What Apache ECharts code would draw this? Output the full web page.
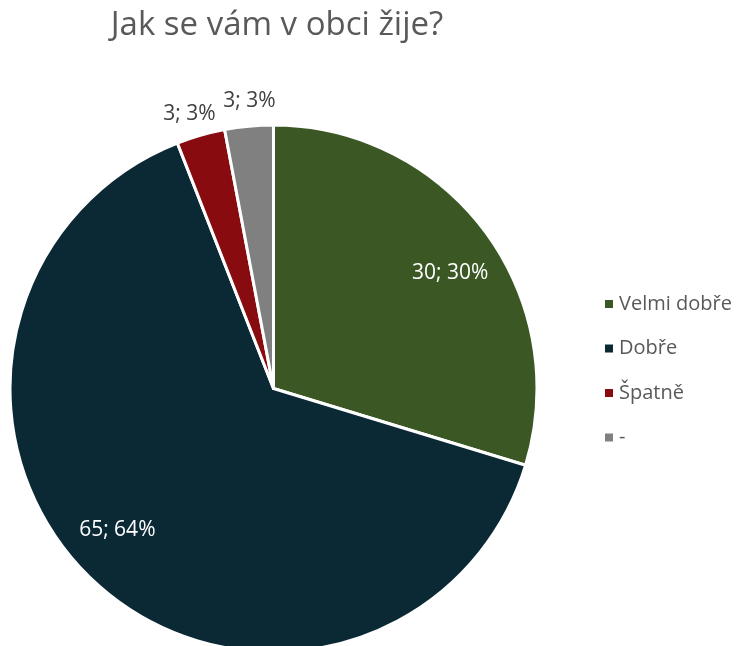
<!DOCTYPE html>
<html style="height: 100%">
<head>
    <meta charset="UTF-8">
    <script src="https://cdn.jsdelivr.net/npm/echarts@6/dist/echarts.min.js"></script>
</head>
<body style="height: 100%; margin: 0; background: #fff">
    <div id="main" style="width: 738px; height: 646px;"></div>
    <script type="text/javascript">
        // data
        var categories = ['Velmi dobře', 'Dobře', 'Špatně', '-'];
        var values = [30, 65, 3, 3];
        var colors = ['#3A5724', '#0B2935', '#880B10', '#808080'];
        var insideLabel = [true, true, false, false];
        // small nudges so labels sit where Excel put them
        var labelShift = [[5, 12], [-11, -15], [-4, 4], [3, 1]];

        var font = '"Open Sans", "Noto Sans", sans-serif';
        var R = 263.5;

        function fmt(p) {
            return p.value + '; ' + Math.round(p.percent) + '%';
        }

        var mainData = categories.map(function (name, i) {
            return {
                name: name,
                value: values[i],
                itemStyle: { color: colors[i] },
                label: { show: !insideLabel[i] }
            };
        });

        // transparent ring only used to place the inside labels at ~0.8 radius
        var ringData = categories.map(function (name, i) {
            return {
                name: name,
                value: values[i],
                label: { show: insideLabel[i] }
            };
        });

        var myChart = echarts.init(document.getElementById('main'));

        var option = {
            animation: false,
            title: {
                text: 'Jak se vám v obci žije?',
                left: 272,
                top: 4,
                textAlign: 'center',
                textStyle: { fontFamily: font, fontSize: 33, fontWeight: 'normal', color: '#595959' }
            },
            legend: {
                data: categories,
                orient: 'vertical',
                left: 598,
                top: 289,
                icon: 'rect',
                itemWidth: 10,
                itemHeight: 10,
                itemGap: 24.5,
                selectedMode: false,
                textStyle: { fontFamily: font, fontSize: 20, lineHeight: 20, color: '#595959' }
            },
            series: [{
                name: 'main',
                type: 'pie',
                center: [273.5, 388.5],
                radius: [0, R],
                startAngle: 90,
                clockwise: true,
                avoidLabelOverlap: false,
                data: mainData,
                itemStyle: { borderColor: '#fff', borderWidth: 3 },
                label: {
                    position: 'outside',
                    formatter: fmt,
                    fontFamily: font,
                    fontSize: 21,
                    color: '#404040',
                    distanceToLabelLine: 0
                },
                labelLine: { show: false, length: 26, length2: 0 },
                labelLayout: function (p) {
                    var s = labelShift[p.dataIndex];
                    return { align: 'center', verticalAlign: 'middle', dx: s[0], dy: s[1] };
                },
                emphasis: { disabled: true }
            }, {
                name: 'labels',
                type: 'pie',
                center: [273.5, 388.5],
                radius: [R * 0.6, R],
                startAngle: 90,
                clockwise: true,
                silent: true,
                data: ringData,
                itemStyle: { color: 'transparent' },
                label: {
                    position: 'inside',
                    formatter: fmt,
                    fontFamily: font,
                    fontSize: 21,
                    color: '#fff'
                },
                labelLine: { show: false },
                labelLayout: function (p) {
                    var s = labelShift[p.dataIndex];
                    return { dx: s[0], dy: s[1] };
                },
                emphasis: { disabled: true }
            }]
        };

        myChart.setOption(option);
    </script>
</body>
</html>
